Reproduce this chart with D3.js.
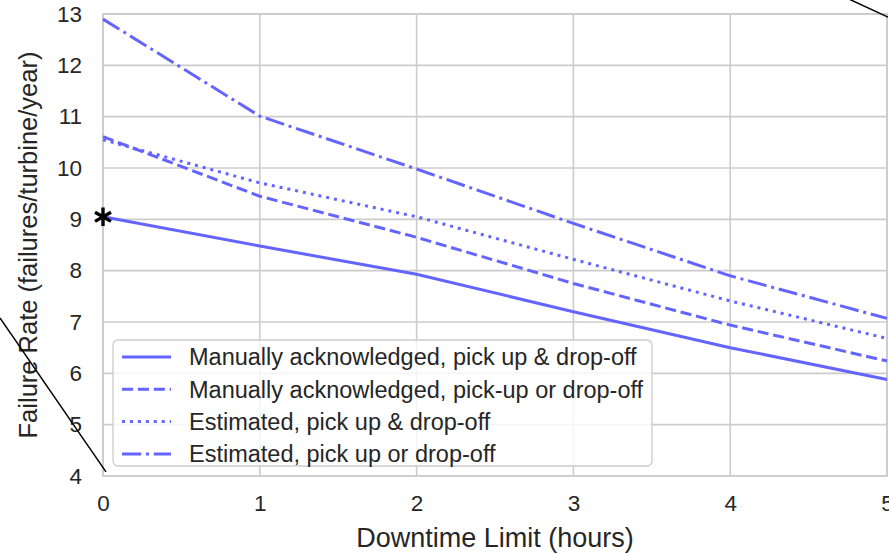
<!DOCTYPE html>
<html>
<head>
<meta charset="utf-8">
<script src="https://cdn.jsdelivr.net/npm/d3@7"></script>
<style>
  html, body { margin: 0; padding: 0; background: #fff; }
  svg { display: block; }
  text { font-family: "Liberation Sans", Arial, sans-serif; fill: #262626; }
</style>
</head>
<body>
<svg id="chart" width="889" height="554"></svg>
<script>
// ---- data ----
const hours = [0, 1, 2, 3, 4, 5];
const manualBoth   = [9.05, 8.48, 7.93, 7.20, 6.50, 5.88];
const manualEither = [10.61, 9.45, 8.65, 7.75, 6.94, 6.24];
const estBoth      = [10.55, 9.71, 9.05, 8.22, 7.41, 6.68];
const estEither    = [12.90, 11.01, 9.98, 8.92, 7.90, 7.07];
const seriesNames = [
  "Manually acknowledged, pick up & drop-off",
  "Manually acknowledged, pick-up or drop-off",
  "Estimated, pick up & drop-off",
  "Estimated, pick up or drop-off"
];
const xTicks = [0, 1, 2, 3, 4, 5];
const yTicks = [4, 5, 6, 7, 8, 9, 10, 11, 12, 13];
const starPoint = [0, 9.05];
// connector lines (data coordinates)
const connectors = [
  [[-0.657, 7.08], [0.019, 4.08]],
  [[4.751, 13.3], [5.006, 12.94]]
];

// ---- layout ----
const margin = {left: 103, top: 14, right: 2, bottom: 78};
const W = 889, H = 554;
const iw = W - margin.left - margin.right;   // 784
const ih = H - margin.top - margin.bottom;   // 462

const svg = d3.select("#chart");
const g = svg.append("g").attr("transform", `translate(${margin.left},${margin.top})`);

const x = d3.scaleLinear().domain([0, 5]).range([0, iw]);
const y = d3.scaleLinear().domain([4, 13]).range([ih, 0]);

const gridColor = "#cccccc";
// grid
g.append("g").selectAll("line").data(xTicks).join("line")
  .attr("x1", d => x(d)).attr("x2", d => x(d)).attr("y1", 0).attr("y2", ih)
  .attr("stroke", gridColor).attr("stroke-width", 1.6);
g.append("g").selectAll("line").data(yTicks).join("line")
  .attr("x1", 0).attr("x2", iw).attr("y1", d => y(d)).attr("y2", d => y(d))
  .attr("stroke", gridColor).attr("stroke-width", 1.6);
// frame
g.append("rect").attr("x", 0).attr("y", 0).attr("width", iw).attr("height", ih)
  .attr("fill", "none").attr("stroke", gridColor).attr("stroke-width", 1.8);

// axes (labels only)
const xAxis = g.append("g").attr("transform", `translate(0,${ih})`)
  .call(d3.axisBottom(x).tickValues(xTicks).tickSize(0).tickPadding(19).tickFormat(d3.format("d")));
const yAxis = g.append("g")
  .call(d3.axisLeft(y).tickValues(yTicks).tickSize(0).tickPadding(21).tickFormat(d3.format("d")));
[xAxis, yAxis].forEach(a => {
  a.select(".domain").remove();
  a.selectAll("text").attr("font-size", 22.5).attr("fill", "#262626")
    .attr("font-family", '"Liberation Sans", Arial, sans-serif');
});

// axis titles
g.append("text").attr("x", iw / 2).attr("y", ih + 71)
  .attr("text-anchor", "middle").attr("font-size", 27)
  .text("Downtime Limit (hours)");
g.append("text").attr("transform", `translate(${-66},${ih / 2}) rotate(-90)`)
  .attr("text-anchor", "middle").attr("font-size", 25.5)
  .text("Failure Rate (failures/turbine/year)");

// series
const lineColor = "#6464ff";
const lw = 3;
const dashes = [null, `${3.7*lw},${1.6*lw}`, `${1*lw},${1.65*lw}`, `${6.4*lw},${1.6*lw},${1*lw},${1.6*lw}`];
const allSeries = [manualBoth, manualEither, estBoth, estEither];
const line = d3.line().x((d, i) => x(hours[i])).y(d => y(d));
allSeries.forEach((vals, k) => {
  g.append("path").datum(vals)
    .attr("d", line)
    .attr("fill", "none")
    .attr("stroke", lineColor)
    .attr("stroke-width", lw)
    .attr("stroke-dasharray", dashes[k])
    .attr("stroke-linecap", "butt");
});

// legend
const lg = svg.append("g").attr("transform", "translate(113,340)");
lg.append("rect").attr("width", 539).attr("height", 126).attr("rx", 5)
  .attr("fill", "#ffffff").attr("fill-opacity", 0.8)
  .attr("stroke", "#cccccc").attr("stroke-width", 1.3);
seriesNames.forEach((name, k) => {
  const cy = 17 + k * 32.3;
  lg.append("line").attr("x1", 9).attr("x2", 58).attr("y1", cy).attr("y2", cy)
    .attr("stroke", lineColor).attr("stroke-width", lw)
    .attr("stroke-dasharray", dashes[k]);
  lg.append("text").attr("x", 76).attr("y", cy).attr("dy", "0.35em")
    .attr("font-size", 23.5).text(name);
});

// asterisk marker
g.append("path")
  .attr("transform", `translate(${x(starPoint[0])},${y(starPoint[1])})`)
  .attr("d", d3.symbol(d3.symbolAsterisk, 240)())
  .attr("fill", "none").attr("stroke", "#000").attr("stroke-width", 3.4);

// connector lines
connectors.forEach(c => {
  g.append("line")
    .attr("x1", x(c[0][0])).attr("y1", y(c[0][1]))
    .attr("x2", x(c[1][0])).attr("y2", y(c[1][1]))
    .attr("stroke", "#000").attr("stroke-width", 1.5);
});
</script>
</body>
</html>
